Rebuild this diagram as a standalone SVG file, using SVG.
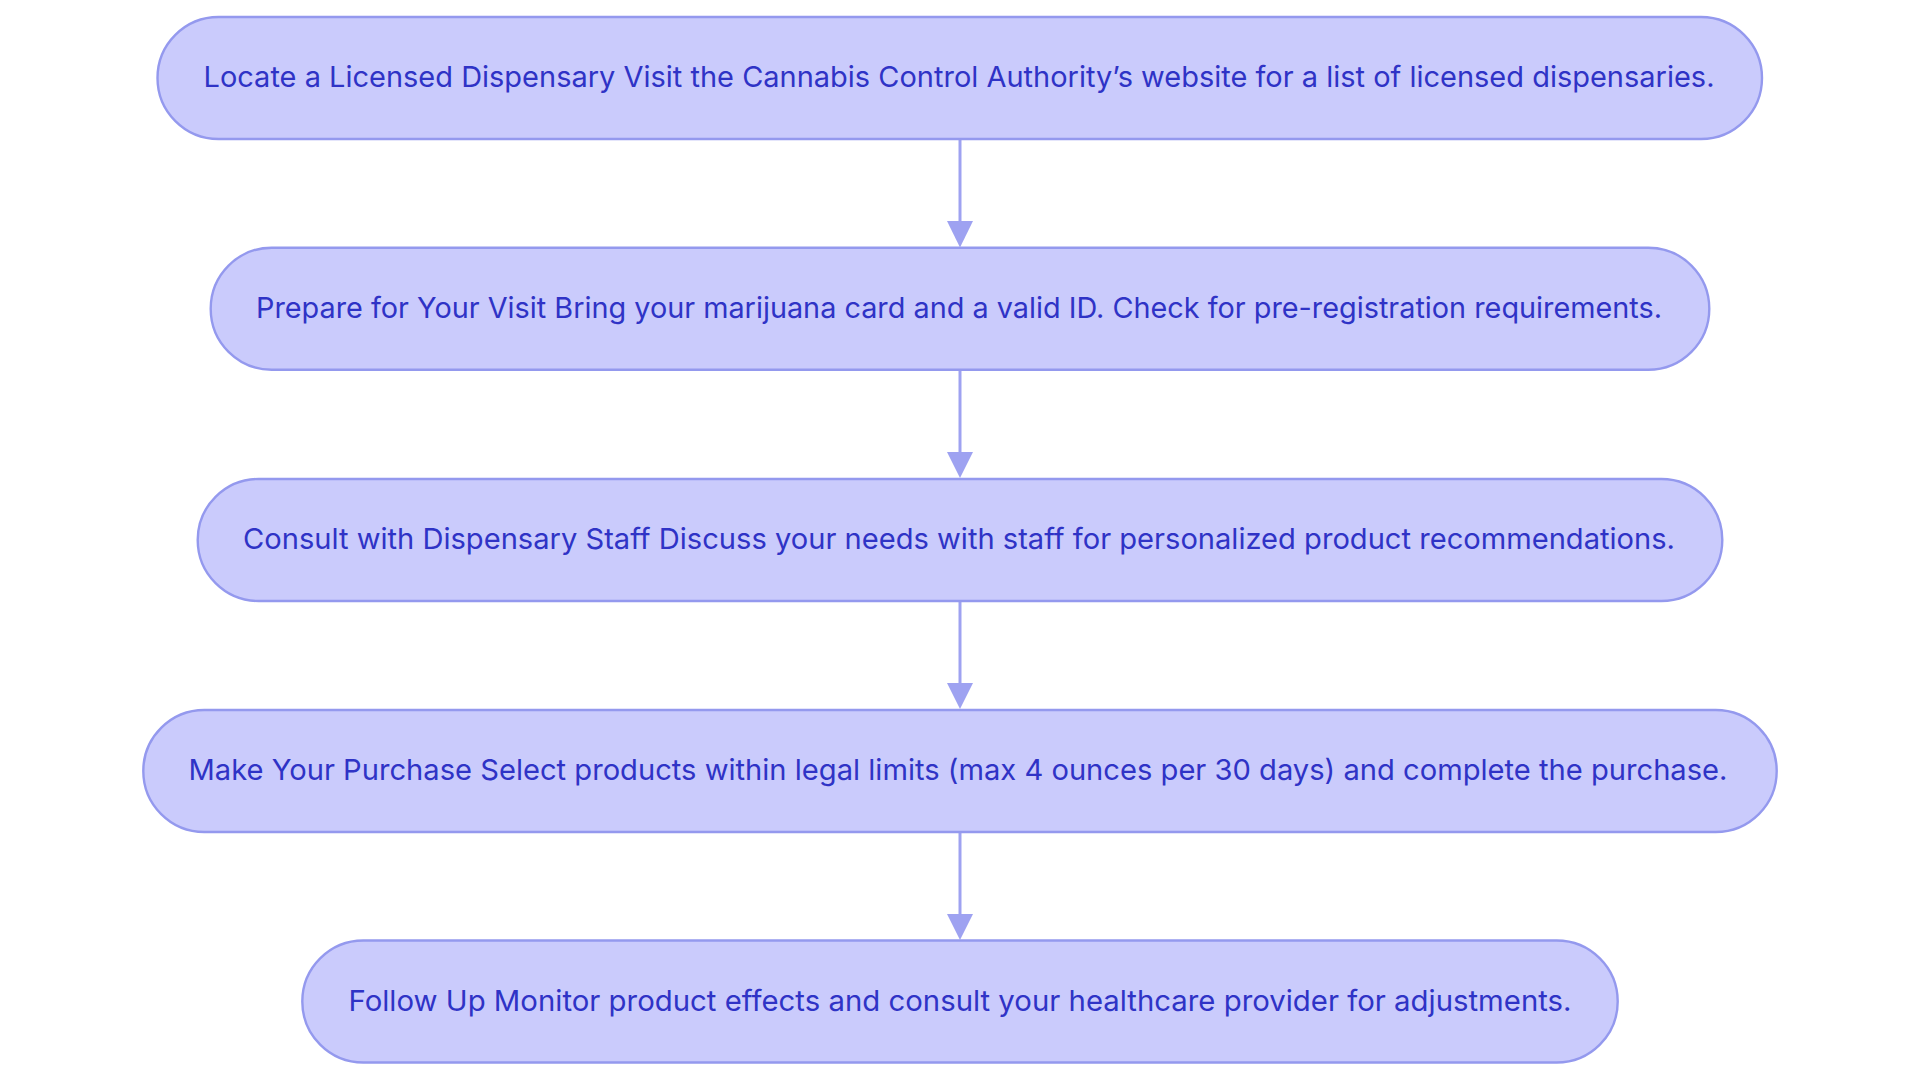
<svg xmlns="http://www.w3.org/2000/svg" width="1920" height="1083" viewBox="0 0 1920 1083">
<style>
.node rect{fill:#cacbfc;stroke:#9499ee;stroke-width:2.4}
.node text{font-family:Inter,"Noto Sans","Liberation Sans",sans-serif;font-size:29px;fill:#2f33c6;text-anchor:middle}
.edge{stroke:#9ea2f1;stroke-width:3;fill:none}
.head{fill:#9ea2f1}
</style>
<rect width="1920" height="1083" fill="#ffffff"/>
<g id="connectors">
<line class="edge" x1="960" y1="139" x2="960" y2="224"/>
<polygon class="head" points="947,221 973,221 960,247.5"/>
<line class="edge" x1="960" y1="370" x2="960" y2="455"/>
<polygon class="head" points="947,452 973,452 960,478"/>
<line class="edge" x1="960" y1="601" x2="960" y2="686"/>
<polygon class="head" points="947,683 973,683 960,709"/>
<line class="edge" x1="960" y1="832" x2="960" y2="917"/>
<polygon class="head" points="947,914 973,914 960,940"/>
</g>
<g id="node1" class="node">
<rect x="157.5" y="17" width="1604.5" height="122" rx="61" ry="61"/>
<text x="959" y="87" textLength="1511" lengthAdjust="spacingAndGlyphs">Locate a Licensed Dispensary Visit the Cannabis Control Authority’s website for a list of licensed dispensaries.</text>
</g>
<g id="node2" class="node">
<rect x="210.7" y="247.7" width="1498.6" height="122" rx="61" ry="61"/>
<text x="959" y="318" textLength="1406" lengthAdjust="spacingAndGlyphs">Prepare for Your Visit Bring your marijuana card and a valid ID. Check for pre-registration requirements.</text>
</g>
<g id="node3" class="node">
<rect x="197.7" y="479" width="1524.6" height="122" rx="61" ry="61"/>
<text x="959" y="549" textLength="1432" lengthAdjust="spacingAndGlyphs">Consult with Dispensary Staff Discuss your needs with staff for personalized product recommendations.</text>
</g>
<g id="node4" class="node">
<rect x="143.3" y="710" width="1633.4" height="122" rx="61" ry="61"/>
<text x="958" y="779.5" textLength="1539" lengthAdjust="spacingAndGlyphs">Make Your Purchase Select products within legal limits (max 4 ounces per 30 days) and complete the purchase.</text>
</g>
<g id="node5" class="node">
<rect x="302.3" y="940.5" width="1315.4" height="122" rx="61" ry="61"/>
<text x="960" y="1010.5" textLength="1223" lengthAdjust="spacingAndGlyphs">Follow Up Monitor product effects and consult your healthcare provider for adjustments.</text>
</g>
</svg>
